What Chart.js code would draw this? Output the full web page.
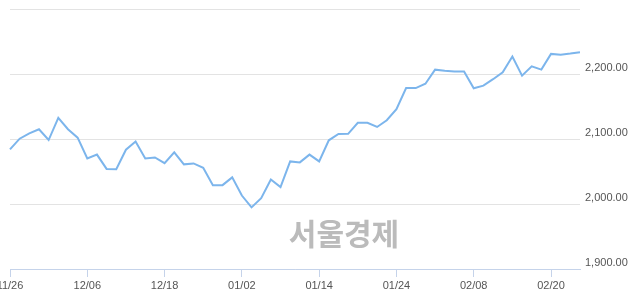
<!DOCTYPE html>
<html>
<head>
<meta charset="utf-8">
<script src="https://cdn.jsdelivr.net/npm/chart.js@4.4.1/dist/chart.umd.min.js"></script>
<style>
html,body{margin:0;padding:0;background:#fff;}
#wrap{width:640px;height:294px;position:relative;}
</style>
</head>
<body>
<div id="wrap"><canvas id="c" width="640" height="294"></canvas></div>
<script>
const dates = ["11/26","11/27","11/28","11/29","11/30","12/03","12/04","12/05","12/06","12/07",
"12/10","12/11","12/12","12/13","12/14","12/17","12/18","12/19","12/20","12/21",
"12/24","12/26","12/27","12/28","01/02","01/03","01/04","01/07","01/08","01/09",
"01/10","01/11","01/14","01/15","01/16","01/17","01/18","01/21","01/22","01/23",
"01/24","01/25","01/28","01/29","01/30","01/31","02/01","02/07","02/08","02/11",
"02/12","02/13","02/14","02/15","02/18","02/19","02/20","02/21","02/22","02/25"];
const closes = [2084,2100.5,2108.8,2115,2098.4,2132.4,2115,2102,2070,2076,
2054,2053.5,2083.5,2096,2070,2071.6,2062.8,2079.4,2061,2062.4,
2055.7,2029,2029,2041,2013,1994.8,2009,2037.6,2026,2065.5,
2064,2076,2065.5,2098,2107.7,2108,2125,2125,2118.5,2128.8,
2145.9,2178.3,2178.3,2185,2206.7,2205,2204,2204,2178,2182,
2192,2202.6,2226.8,2197.4,2211.8,2206.7,2230.9,2229.8,2231.4,2233.5];
const xTickLabels = ["11/26","12/06","12/18","01/02","01/14","01/24","02/08","02/20"];
const yMin = 1900, yMax = 2300, yStep = 100;
const watermark = "서울경제";

const watermarkPlugin = {
  id: 'wm',
  beforeDatasetsDraw(chart) {
    const ctx = chart.ctx;
    ctx.save();
    ctx.font = 'bold 30px "Noto Sans CJK KR", sans-serif';
    ctx.fillStyle = '#bbbbbb';
    ctx.textAlign = 'center';
    ctx.textBaseline = 'middle';
    ctx.fillText(watermark, 344, 234);
    ctx.restore();
  }
};

new Chart(document.getElementById('c'), {
  type: 'line',
  data: {
    labels: dates,
    datasets: [{
      data: closes,
      borderColor: '#7cb5ec',
      borderWidth: 2,
      pointRadius: 0,
      tension: 0,
      fill: false
    }]
  },
  options: {
    responsive: false,
    animation: false,
    events: [],
    layout: { padding: { top: 9, left: 10, right: 0, bottom: 0 } },
    plugins: { legend: { display: false }, tooltip: { enabled: false } },
    scales: {
      x: {
        offset: false,
        grid: {
          display: true,
          drawOnChartArea: false,
          drawTicks: true,
          tickLength: 8,
          color: '#c5d3ea'
        },
        border: { display: true, color: '#c5d3ea', width: 1 },
        ticks: {
          autoSkip: false,
          maxRotation: 0,
          padding: 2,
          color: '#555555',
          font: { family: '"Liberation Sans", Arial, sans-serif', size: 11 },
          callback: function(v, i) { const l = dates[i]; return (i % 8 === 0 && xTickLabels.includes(l)) ? l : null; }
        },
        afterFit: function(s) { s.height = 25; s.paddingLeft = 0; s.paddingRight = 0; }
      },
      y: {
        position: 'right',
        min: yMin, max: yMax,
        grid: { color: '#e3e3e3', drawTicks: false, lineWidth: 1 },
        border: { display: false },
        ticks: {
          stepSize: yStep,
          padding: 5,
          labelOffset: -6,
          color: '#555555',
          font: { family: '"Liberation Sans", Arial, sans-serif', size: 11 },
          callback: function(v) { if (v >= yMax) return ''; return v.toLocaleString('en-US', {minimumFractionDigits: 2, maximumFractionDigits: 2}); }
        },
        afterFit: function(s) { s.width = 60; s.paddingTop = 0; s.paddingBottom = 0; }
      }
    }
  },
  plugins: [watermarkPlugin]
});
</script>
</body>
</html>
